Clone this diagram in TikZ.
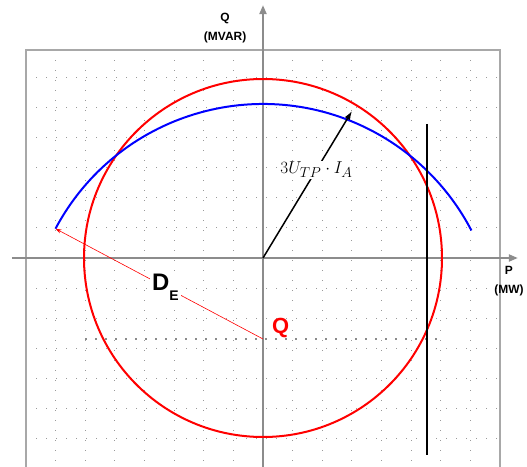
\documentclass[tikz,border=0pt]{standalone}
\usepackage{fontspec}
\setsansfont{Liberation Sans}
\usetikzlibrary{arrows.meta}
\definecolor{axisgray}{HTML}{8C8C8C}
\definecolor{gridgray}{HTML}{9A9A9A}
\definecolor{boxgray}{HTML}{A8A8A8}
\definecolor{dashgray}{HTML}{8A8A8A}
\definecolor{circred}{HTML}{FF0000}
\definecolor{arcblue}{HTML}{0000FF}

\begin{document}
\begin{tikzpicture}[x=29.6bp, y=30bp,
    axisline/.style={axisgray, line width=2bp, -{Triangle[length=9bp,width=7bp]}},
    gridline/.style={gridgray, line width=1bp, dash pattern=on 1bp off 9bp},
    lbl/.style={inner sep=0pt}]
  \useasboundingbox (-263bp,-209bp) rectangle (264bp,258bp);

  % Dotted grid
  \foreach \i in {-7,...,7}
    \draw[gridline] (\i,6.93) -- (\i,-7.2);
  \foreach \j in {-6,...,6}
    \draw[gridline] (-8,\j) -- (7.9,\j);

  % Frame
  \draw[boxgray, line width=1.5bp] (-8,-7.5) rectangle (8,6.93);

  % Axes
  \coordinate (O) at (0,0);
  \draw[axisline] (0,-7.2) -- (0,8.43);
  \draw[axisline] (-8.48,0) -- (8.61,0);
  \node[lbl, align=center, font=\fontsize{12}{19}\selectfont\sffamily\bfseries] (qAxis) at (-1.28,7.65) {Q\\(MVAR)};
  \node[lbl, align=center, font=\fontsize{12}{20}\selectfont\sffamily\bfseries] (pAxis) at (8.31,-0.77) {P\\(MW)};

  % Red circle around the origin
  \draw[circred, line width=2bp] (O) circle[radius=179bp];

  % Blue arc around Q
  \coordinate (Q) at (0,-2.7);
  \coordinate (blueEnd) at ([shift={(152:235bp)}]Q);
  \draw[arcblue, line width=2bp] (blueEnd) arc[start angle=152, end angle=27.5, radius=235bp];

  % Dashed line through Q
  \draw[dashgray, line width=1.2bp, dash pattern=on 2bp off 8bp] (-6,-2.7) -- (6,-2.7);

  % Vertical limit
  \draw[black, line width=2bp] (5.54,4.47) -- (5.54,-6.57);

  % Radius arrow
  \coordinate (radTip) at (58.8:172bp);
  \draw[black, line width=1.5bp, -{Latex[length=9bp,width=6bp]}] (O) -- node[pos=0.6, fill=white, inner sep=1bp, font=\fontsize{19}{19}\selectfont] (radLabel) {$3U_{TP}\cdot I_A$} (radTip);

  % Distance D_E
  \draw[circred, line width=0.6bp, -{Stealth[length=6bp,width=4bp]}] (Q) -- node[pos=0.47, fill=white, inner sep=2bp, text=black, font=\fontsize{24}{24}\selectfont\sffamily\bfseries] (dLabel) {D\raisebox{-0.42em}{\fontsize{14}{14}\selectfont E}} (blueEnd);

  % Q label
  \node[lbl, circred, anchor=south west, font=\fontsize{22}{22}\selectfont\sffamily\bfseries] (qLabel) at ([shift={(9bp,1bp)}]Q) {Q};
\end{tikzpicture}
\end{document}
